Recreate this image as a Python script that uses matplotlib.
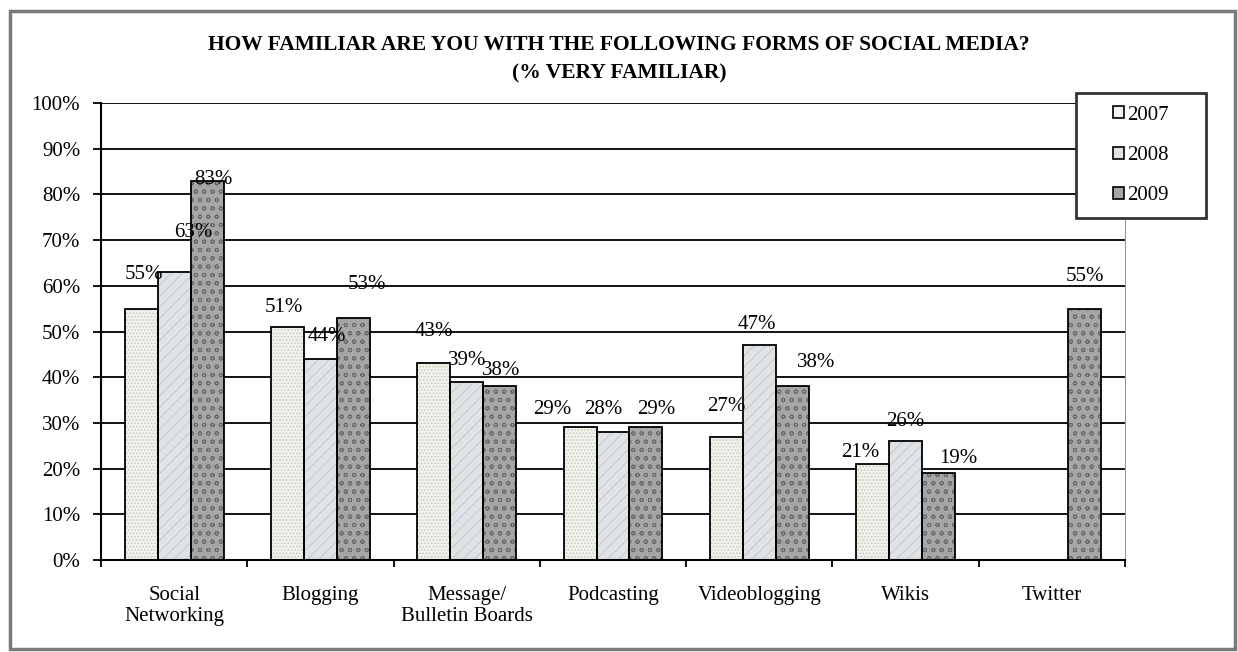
import numpy as np
import matplotlib
matplotlib.use('Agg')
import matplotlib.pyplot as plt
from matplotlib.patches import Patch, Rectangle

# dados da pesquisa (% muito familiarizado)
categorias = ['Social\nNetworking', 'Blogging', 'Message/\nBulletin Boards',
              'Podcasting', 'Videoblogging', 'Wikis', 'Twitter']
anos = ['2007', '2008', '2009']
valores_2007 = [55, 51, 43, 29, 27, 21, None]
valores_2008 = [63, 44, 39, 28, 47, 26, None]
valores_2009 = [83, 53, 38, 29, 38, 19, 55]

# deslocamento dos rótulos (pixels) em relação ao topo de cada barra
desloc_2007 = [(3, 34), (-4, 19), (0, 32), (-28, 18), (0, 30), (-12, 12), None]
desloc_2008 = [(19, 40), (6, 22), (0, 21), (-10, 23), (-2, 21), (0, 20), None]
desloc_2009 = [(6, 1), (14, 33), (1, 16), (10, 18), (24, 24), (20, 15), (0, 32)]

# estilo de cada série: cor de fundo, hachura, cor da hachura
estilos = [('#f2f2ec', '.....', '#c8c8be'),
           ('#dfe3e6', '///', '#c2c8cc'),
           ('#a6a6a6', 'oo', '#6a6a6a')]

plt.rcParams['font.family'] = ['Liberation Serif', 'DejaVu Serif']
plt.rcParams['hatch.linewidth'] = 0.7

fig = plt.figure(figsize=(12.38, 6.52), dpi=100)
ax = fig.add_axes([0.0816, 0.1411, 0.8271, 0.7009])

# moldura externa
fig.patches.append(Rectangle((0.008, 0.0046), 0.9895, 0.978, transform=fig.transFigure,
                             fill=False, edgecolor='#7a7a7a', linewidth=2.5))

x = np.arange(len(categorias)) + 0.5
largura = 0.2255
series = [valores_2007, valores_2008, valores_2009]
deslocs = [desloc_2007, desloc_2008, desloc_2009]

ax.set_axisbelow(True)
ax.yaxis.grid(True, color='black', linewidth=1.3)

for i, (serie, desl, (cor, hachura, cor_h)) in enumerate(zip(series, deslocs, estilos)):
    pos = x + (i - 1) * largura
    for xp, v, d in zip(pos, serie, desl):
        if v is None:
            continue
        # preenchimento com textura
        ax.bar(xp, v, largura, color=cor, hatch=hachura, edgecolor=cor_h, linewidth=0, zorder=2)
        # contorno
        ax.bar(xp, v, largura, fill=False, edgecolor='black', linewidth=1.3, zorder=3)
        ax.annotate(f'{v}%', (xp, v), xytext=d, textcoords='offset pixels',
                    ha='center', va='center', fontsize=15, zorder=4)

ax.set_xlim(0, len(categorias))
ax.set_ylim(0, 100)
ax.set_yticks(range(0, 101, 10))
ax.set_yticklabels([f'{t}%' for t in range(0, 101, 10)], fontsize=15)
ax.set_xticks(range(0, len(categorias) + 1))
ax.set_xticklabels([])
ax.set_xticks(x, minor=True)
ax.set_xticklabels(categorias, minor=True, fontsize=15, linespacing=1.15)
ax.tick_params(axis='x', which='minor', length=0, pad=19)
ax.tick_params(axis='x', which='major', length=5, width=1.3, direction='out')
ax.tick_params(axis='y', length=6, width=1.3, direction='out', pad=9)

ax.spines['top'].set_visible(False)
ax.spines['right'].set_color('#9a9a9a')
ax.spines['left'].set_linewidth(1.5)
ax.spines['bottom'].set_linewidth(1.5)

fig.text(0.5, 0.931, 'HOW FAMILIAR ARE YOU WITH THE FOLLOWING FORMS OF SOCIAL MEDIA?',
         ha='center', va='center', fontsize=15.5, fontweight='bold')
fig.text(0.5, 0.888, '(% VERY FAMILIAR)', ha='center', va='center',
         fontsize=15.5, fontweight='bold')

# caixa da legenda por cima das linhas de grade
fig.patches.append(Rectangle((0.869, 0.6656), 0.105, 0.1917, transform=fig.transFigure,
                             facecolor='white', edgecolor='#333333', linewidth=2, zorder=4))
handles = [Patch(facecolor=c, edgecolor='black', linewidth=1.2) for c, _, _ in estilos]
leg = fig.legend(handles, anos, loc='center', bbox_to_anchor=(0.9217, 0.7615),
                 fontsize=15, frameon=False, handlelength=0.5, handleheight=0.5,
                 handletextpad=0.15, labelspacing=1.02, borderaxespad=0)
leg.set_zorder(5)

fig.savefig('out.png', dpi=100)
